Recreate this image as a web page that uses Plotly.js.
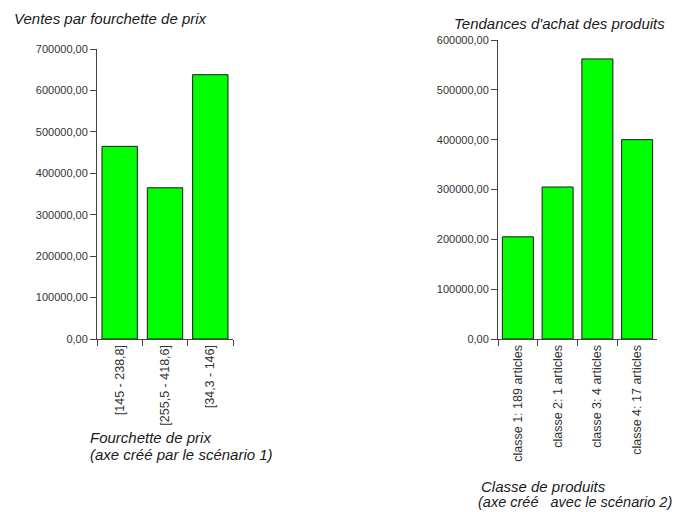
<!DOCTYPE html>
<html>
<head>
<meta charset="utf-8">
<script src="https://cdn.plot.ly/plotly-3.0.1.min.js"></script>
<style>
  html, body { margin: 0; padding: 0; background: #fff; }
  #chart { width: 681px; height: 512px; }
</style>
</head>
<body>
<div id="chart"></div>
<script>
// Ventes par fourchette de prix
const priceRanges = ["[145 - 238,8]", "[255,5 - 418,6]", "[34,3 - 146]"];
const priceSales = [465000, 365000, 638000];

// Tendances d'achat des produits
const productClasses = ["classe 1: 189 articles", "classe 2: 1 articles", "classe 3: 4 articles", "classe 4: 17 articles"];
const classSales = [205000, 305000, 562000, 400000];

const W = 681, H = 512;
const px = x => x / W;          // pixel column -> paper x
const py = y => (H - y) / H;    // pixel row -> paper y

const FONT = "Liberation Sans, Arial, sans-serif";
const barStyle = { color: "#00ff00", line: { color: "#1a1a1a", width: 1 } };

const traces = [
  { type: "bar", x: priceRanges, y: priceSales, xaxis: "x", yaxis: "y", marker: barStyle, hoverinfo: "x+y" },
  { type: "bar", x: productClasses, y: classSales, xaxis: "x2", yaxis: "y2", marker: barStyle, hoverinfo: "x+y" }
];

const xCommon = {
  type: "category",
  showgrid: false,
  showline: true, linecolor: "#444", linewidth: 1,
  ticks: "outside", tickson: "boundaries", ticklen: 6, tickcolor: "#444",
  tickangle: -90,
  tickfont: { family: FONT, size: 12.5, color: "#333" },
  fixedrange: true
};
const yCommon = {
  showgrid: false, zeroline: false,
  showline: true, linecolor: "#444", linewidth: 1,
  ticks: "outside", ticklen: 6, tickcolor: "#444",
  tickformat: ".2f", dtick: 100000,
  tickfont: { family: FONT, size: 11, color: "#333" },
  fixedrange: true
};

// single-line italic text placed by its left edge and vertical centre, in pixels
function label(text, x, y, size) {
  return { text: text, xref: "paper", yref: "paper", x: px(x), y: py(y),
           xanchor: "left", yanchor: "middle", showarrow: false,
           font: { family: FONT, size: size || 15, color: "#1a1a1a", style: "italic" } };
}

const layout = {
  width: W, height: H,
  margin: { l: 0, r: 0, t: 0, b: 0 },
  paper_bgcolor: "#fff", plot_bgcolor: "rgba(0,0,0,0)",
  separators: ", ",
  showlegend: false,
  bargap: 0.22,
  xaxis:  Object.assign({}, xCommon, { domain: [px(97), px(233)], anchor: "y" }),
  yaxis:  Object.assign({}, yCommon, { domain: [py(339), py(49)], range: [0, 700000], anchor: "x" }),
  xaxis2: Object.assign({}, xCommon, { domain: [px(498), px(657)], anchor: "y2" }),
  yaxis2: Object.assign({}, yCommon, { domain: [py(339), py(40)], range: [0, 600000], anchor: "x2" }),
  annotations: [
    label("Ventes par fourchette de prix", 12, 18),
    label("Tendances d'achat des produits", 452, 23),
    label("Fourchette de prix", 88, 437),
    label("(axe créé par le scénario 1)", 88, 454),
    label("Classe de produits", 479, 486),
    label("(axe créé   avec le scénario 2)", 476, 502, 14.5)
  ]
};

Plotly.newPlot("chart", traces, layout, { displayModeBar: false, staticPlot: true });
</script>
</body>
</html>
